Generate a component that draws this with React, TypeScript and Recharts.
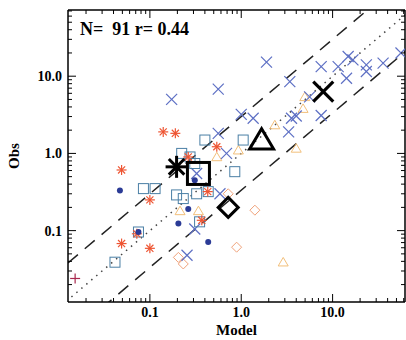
import { ScatterChart, Scatter, XAxis, YAxis, ReferenceLine } from 'recharts';

// model vs obs, log-log
const blueCrosses = [
  { x: 0.173, y: 5.0 }, { x: 0.56, y: 6.8 }, { x: 1.89, y: 15.2 }, { x: 1.0, y: 3.2 },
  { x: 1.35, y: 2.85 }, { x: 0.56, y: 1.82 }, { x: 0.69, y: 1.0 }, { x: 3.4, y: 8.5 },
  { x: 3.55, y: 2.85 }, { x: 4.0, y: 3.05 }, { x: 3.3, y: 1.9 }, { x: 5.6, y: 5.4 },
  { x: 7.5, y: 13.3 }, { x: 7.5, y: 3.1 }, { x: 11.5, y: 13.3 }, { x: 14.2, y: 9.4 },
  { x: 14.8, y: 18 }, { x: 16.7, y: 16.3 }, { x: 23.4, y: 14 }, { x: 23.4, y: 11.5 },
  { x: 35.7, y: 14.8 }, { x: 56, y: 20 }, { x: 0.31, y: 0.105 }, { x: 0.255, y: 0.048 },
  { x: 0.325, y: 0.55 }, { x: 0.585, y: 0.3 },
];
const squares = [
  { x: 0.085, y: 0.35 }, { x: 0.114, y: 0.35 }, { x: 0.075, y: 0.096 }, { x: 0.0415, y: 0.039 },
  { x: 0.4, y: 1.49 }, { x: 1.05, y: 1.49 }, { x: 0.85, y: 0.58 }, { x: 0.223, y: 1.0 },
  { x: 0.275, y: 0.9 }, { x: 0.196, y: 0.29 }, { x: 0.232, y: 0.26 }, { x: 0.325, y: 0.3 },
  { x: 0.35, y: 0.13 }, { x: 0.435, y: 0.32 }, { x: 0.31, y: 0.74 },
];
const triangles = [
  { x: 4.96, y: 5.4 }, { x: 4.75, y: 3.8 }, { x: 2.33, y: 2.33 }, { x: 4.0, y: 1.16 },
  { x: 0.93, y: 1.1 }, { x: 2.88, y: 0.039 }, { x: 0.54, y: 0.9 }, { x: 0.214, y: 0.18 },
  { x: 0.34, y: 0.18 },
];
const diamonds = [
  { x: 1.41, y: 0.184 }, { x: 0.89, y: 0.061 }, { x: 0.205, y: 0.045 }, { x: 0.232, y: 0.037 },
  { x: 0.72, y: 0.3 },
];
const asterisks = [
  { x: 0.14, y: 1.9 }, { x: 0.19, y: 1.82 }, { x: 0.049, y: 0.61 }, { x: 0.1, y: 0.25 },
  { x: 0.049, y: 0.068 }, { x: 0.1, y: 0.059 }, { x: 0.072, y: 0.091 }, { x: 0.37, y: 0.136 },
  { x: 0.54, y: 1.22 }, { x: 0.263, y: 0.9 }, { x: 0.43, y: 0.32 },
];
const dots = [
  { x: 0.047, y: 0.33 }, { x: 0.263, y: 0.19 }, { x: 0.205, y: 0.124 }, { x: 0.435, y: 0.071 },
  { x: 0.075, y: 0.096 }, { x: 0.31, y: 0.45 },
];
const pluses = [{ x: 0.0152, y: 0.024 }];

// mean of each group
const bigAsterisk = [{ x: 0.196, y: 0.67 }];
const bigSquare = [{ x: 0.34, y: 0.55 }];
const bigDiamond = [{ x: 0.72, y: 0.2 }];
const bigTriangle = [{ x: 1.67, y: 1.49 }];
const bigCross = [{ x: 7.9, y: 6.3 }];

const xDomain = [0.0127, 62];
const yDomain = [0.0119, 72];
const majorTicks = [0.1, 1, 10];
const majorLabels = ['0.1', '1.0', '10.0'];
const minorMult = [2, 3, 4, 5, 6, 7, 8, 9];
const decades = [0.01, 0.1, 1, 10];
const factor = 3;

const allTicks = (lo: number, hi: number) => {
  const t: number[] = [];
  decades.forEach((d) => {
    [1, ...minorMult].forEach((m) => {
      const v = +(d * m).toPrecision(3);
      if (v >= lo && v <= hi) t.push(v);
    });
  });
  return t;
};
const xTicks = allTicks(xDomain[0], xDomain[1]);
const yTicks = allTicks(yDomain[0], yDomain[1]);

const isMajor = (v: number) => majorTicks.findIndex((m) => Math.abs(m - v) / m < 1e-6);

const FONT = '"Liberation Serif", "Times New Roman", serif';

const BottomTick = (p: any) => {
  const i = isMajor(p.payload.value);
  return (
    <g>
      <line x1={p.x} x2={p.x} y1={p.y} y2={p.y - (i >= 0 ? 8 : 4)} stroke="#000" strokeWidth={1} />
      {i >= 0 && (
        <text x={p.x} y={p.y + 15} textAnchor="middle" fontFamily={FONT} fontWeight="bold" fontSize={14} fill="#000">
          {majorLabels[i]}
        </text>
      )}
    </g>
  );
};
const TopTick = (p: any) => {
  const i = isMajor(p.payload.value);
  return <line x1={p.x} x2={p.x} y1={p.y} y2={p.y + (i >= 0 ? 8 : 4)} stroke="#000" strokeWidth={1} />;
};
const LeftTick = (p: any) => {
  const i = isMajor(p.payload.value);
  return (
    <g>
      <line x1={p.x} x2={p.x + (i >= 0 ? 8 : 4)} y1={p.y} y2={p.y} stroke="#000" strokeWidth={1} />
      {i >= 0 && (
        <text x={p.x - 6} y={p.y + 5} textAnchor="end" fontFamily={FONT} fontWeight="bold" fontSize={14} fill="#000">
          {majorLabels[i]}
        </text>
      )}
    </g>
  );
};
const RightTick = (p: any) => {
  const i = isMajor(p.payload.value);
  return <line x1={p.x} x2={p.x - (i >= 0 ? 8 : 4)} y1={p.y} y2={p.y} stroke="#000" strokeWidth={1} />;
};

const crossShape = (r: number, color: string, w: number) => (p: any) => (
  <g stroke={color} strokeWidth={w} fill="none">
    <line x1={p.cx - r} y1={p.cy - r} x2={p.cx + r} y2={p.cy + r} />
    <line x1={p.cx - r} y1={p.cy + r} x2={p.cx + r} y2={p.cy - r} />
  </g>
);
const squareShape = (r: number, color: string, w: number) => (p: any) => (
  <rect x={p.cx - r} y={p.cy - r} width={2 * r} height={2 * r} stroke={color} strokeWidth={w} fill="none" />
);
const triangleShape = (r: number, color: string, w: number) => (p: any) => (
  <polygon
    points={`${p.cx - r},${p.cy + r * 0.75} ${p.cx + r},${p.cy + r * 0.75} ${p.cx},${p.cy - r * 0.95}`}
    stroke={color} strokeWidth={w} fill="none" strokeLinejoin="miter"
  />
);
const diamondShape = (r: number, color: string, w: number) => (p: any) => (
  <polygon
    points={`${p.cx},${p.cy - r} ${p.cx + r},${p.cy} ${p.cx},${p.cy + r} ${p.cx - r},${p.cy}`}
    stroke={color} strokeWidth={w} fill="none"
  />
);
const asteriskShape = (r: number, color: string, w: number) => (p: any) => (
  <g stroke={color} strokeWidth={w}>
    {[0, 45, 90, 135].map((a) => {
      const dx = r * Math.cos((a * Math.PI) / 180);
      const dy = r * Math.sin((a * Math.PI) / 180);
      return <line key={a} x1={p.cx - dx} y1={p.cy - dy} x2={p.cx + dx} y2={p.cy + dy} />;
    })}
  </g>
);
const dotShape = (r: number, color: string) => (p: any) => <circle cx={p.cx} cy={p.cy} r={r} fill={color} />;
const plusShape = (r: number, color: string, w: number) => (p: any) => (
  <g stroke={color} strokeWidth={w}>
    <line x1={p.cx - r} y1={p.cy} x2={p.cx + r} y2={p.cy} />
    <line x1={p.cx} y1={p.cy - r} x2={p.cx} y2={p.cy + r} />
  </g>
);

const lineEnds = [0.001, 1000];

export default function App() {
  return (
    <div style={{ position: 'absolute', left: 0, top: 0, background: '#fff' }}>
      <ScatterChart width={406} height={340} margin={{ top: 9, right: 0, bottom: 0, left: 0 }}>
        <XAxis
          dataKey="x" type="number" scale="log" domain={xDomain} allowDataOverflow ticks={xTicks} interval={0}
          tick={<BottomTick />} tickLine={false} tickSize={0} tickMargin={0} height={38}
          axisLine={{ stroke: '#000', strokeWidth: 1.5 }}
          label={{ value: 'Model', position: 'insideBottom', offset: 5, fontFamily: FONT, fontWeight: 'bold', fontSize: 15, fill: '#000' }}
        />
        <XAxis
          xAxisId="top" orientation="top" dataKey="x" type="number" scale="log" domain={xDomain} allowDataOverflow
          ticks={xTicks} interval={0} tick={<TopTick />} tickLine={false} tickSize={0} tickMargin={0} height={1}
          axisLine={{ stroke: '#000', strokeWidth: 1.5 }}
        />
        <YAxis
          dataKey="y" type="number" scale="log" domain={yDomain} allowDataOverflow ticks={yTicks} interval={0}
          tick={<LeftTick />} tickLine={false} tickSize={0} tickMargin={0} width={68}
          axisLine={{ stroke: '#000', strokeWidth: 1.5 }}
          label={{ value: 'Obs', angle: -90, position: 'insideLeft', offset: 14, fontFamily: FONT, fontWeight: 'bold', fontSize: 15, fill: '#000', style: { textAnchor: 'middle' } }}
        />
        <YAxis
          yAxisId="right" orientation="right" dataKey="y" type="number" scale="log" domain={yDomain} allowDataOverflow
          ticks={yTicks} interval={0} tick={<RightTick />} tickLine={false} tickSize={0} tickMargin={0} width={1}
          axisLine={{ stroke: '#000', strokeWidth: 1.5 }}
        />

        <ReferenceLine
          segment={[{ x: lineEnds[0], y: lineEnds[0] }, { x: lineEnds[1], y: lineEnds[1] }]}
          ifOverflow="hidden" stroke="#444" strokeWidth={1.5} strokeDasharray="1.5 5"
        />
        <ReferenceLine
          segment={[{ x: lineEnds[0], y: lineEnds[0] * factor }, { x: lineEnds[1], y: lineEnds[1] * factor }]}
          ifOverflow="hidden" stroke="#222" strokeWidth={1.5} strokeDasharray="13 9"
        />
        <ReferenceLine
          segment={[{ x: lineEnds[0], y: lineEnds[0] / factor }, { x: lineEnds[1], y: lineEnds[1] / factor }]}
          ifOverflow="hidden" stroke="#222" strokeWidth={1.5} strokeDasharray="13 9"
        />

        <Scatter data={triangles} shape={triangleShape(5, '#f2bf7a', 1)} isAnimationActive={false} />
        <Scatter data={diamonds} shape={diamondShape(5, '#f0a27a', 1)} isAnimationActive={false} />
        <Scatter data={blueCrosses} shape={crossShape(5.5, '#5d6fc4', 1.2)} isAnimationActive={false} />
        <Scatter data={squares} shape={squareShape(5, '#4a7fa5', 1)} isAnimationActive={false} />
        <Scatter data={asterisks} shape={asteriskShape(5, '#ee5533', 1.2)} isAnimationActive={false} />
        <Scatter data={dots} shape={dotShape(3, '#2b3b96')} isAnimationActive={false} />
        <Scatter data={pluses} shape={plusShape(5, '#a8284e', 1.2)} isAnimationActive={false} />

        <Scatter data={bigAsterisk} shape={asteriskShape(11, '#000', 3)} isAnimationActive={false} />
        <Scatter data={bigSquare} shape={squareShape(11, '#000', 3)} isAnimationActive={false} />
        <Scatter data={bigDiamond} shape={diamondShape(10, '#000', 3)} isAnimationActive={false} />
        <Scatter data={bigTriangle} shape={triangleShape(12, '#000', 3)} isAnimationActive={false} />
        <Scatter data={bigCross} shape={crossShape(10, '#000', 3.2)} isAnimationActive={false} />

        <text x={80} y={35} fontFamily={FONT} fontWeight="bold" fontSize={18} fill="#000" style={{ whiteSpace: 'pre' }}>
          {'N=  91 r= 0.44'}
        </text>
      </ScatterChart>
    </div>
  );
}
